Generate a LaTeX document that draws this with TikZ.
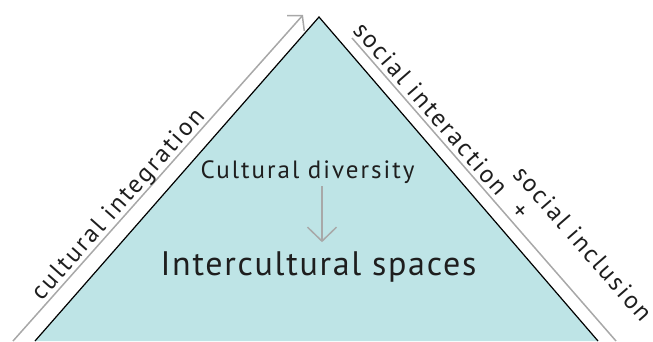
\documentclass[tikz,border=0pt]{standalone}
\usepackage{fontspec}
\setmainfont{PT Sans}
\usepackage{xcolor}
\usepackage{tikz}
\usetikzlibrary{arrows.meta}

\definecolor{spacefill}{HTML}{BEE4E6}
\definecolor{axisgray}{HTML}{A8A8A8}
\definecolor{inktext}{HTML}{1E1E1E}

\begin{document}
\begin{tikzpicture}[x=1pt, y=1pt,
    axisline/.style={draw=axisgray, line width=1.5pt},
    sidetext/.style={text=inktext, inner sep=0pt, font=\fontsize{25}{25}\selectfont\addfontfeature{LetterSpace=9}},
    midtext/.style={text=inktext, inner sep=3pt, anchor=base, font=\fontsize{25}{25}\selectfont\addfontfeature{LetterSpace=8}},
    bigtext/.style={text=inktext, inner sep=3pt, outer sep=6pt, anchor=base, font=\fontsize{34}{34}\selectfont\addfontfeature{LetterSpace=5}}]
    \useasboundingbox (0,0) rectangle (653,341);
    % Triangle
    \coordinate (apex)  at (319,324);
    \coordinate (lbase) at ( 35,  0);
    \coordinate (rbase) at (598,  0);
    \fill[spacefill] (lbase) -- (apex) -- (rbase) -- cycle;
    \draw[line width=1.2pt] (lbase) -- (apex) -- (rbase);
    % Axes along the sides
    \coordinate (ci0) at ( 13,  0);
    \coordinate (ci1) at (303,326);
    \coordinate (si0) at (352,303);
    \coordinate (si1) at (616,  0);
    \draw[axisline, -{Straight Barb[length=10pt, width=23pt]}] (ci0) -- (ci1);
    \draw[axisline] (si0) -- (si1);
    % Side labels
    \node[sidetext, rotate=48.4]  (integ)    at (119,136)  {cultural integration};
    \node[sidetext, rotate=-48.9] (interact) at (431,232.5) {social interaction};
    \node[sidetext, rotate=-48.9] (plus)     at (519,129)  {+};
    \node[sidetext, rotate=-48.9] (inclus)   at (583,97.5) {social inclusion};
    % Inside
    \node[midtext] (cd)  at (307.5,163) {Cultural diversity};
    \node[bigtext] (isp) at (318.5,66)  {Intercultural spaces};
    \draw[axisline, -{Straight Barb[length=14pt, width=29pt]}] ([xshift=3.5pt]isp.north |- cd.south) -- ([xshift=3.5pt]isp.north);
\end{tikzpicture}
\end{document}
